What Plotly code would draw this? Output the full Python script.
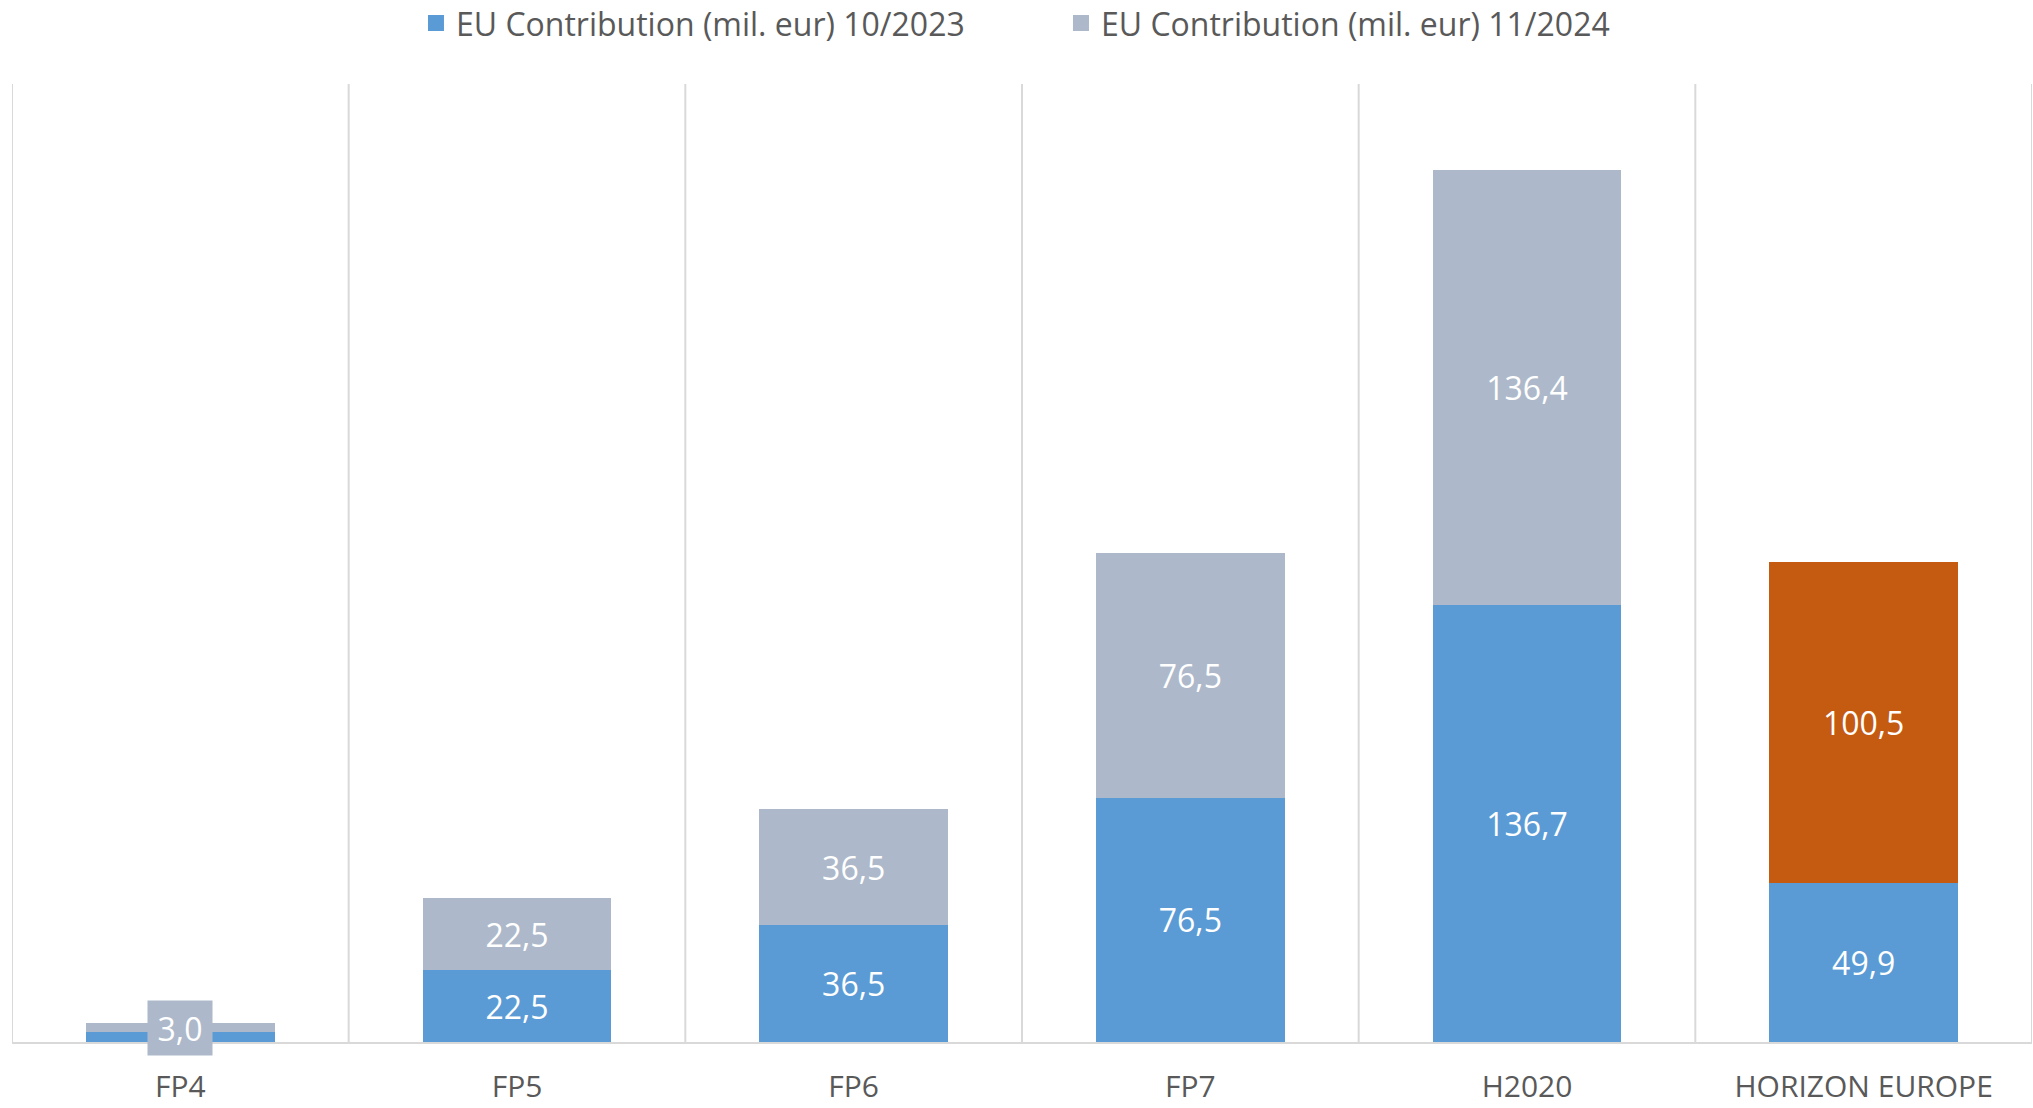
import plotly.graph_objects as go

categories = ["FP4", "FP5", "FP6", "FP7", "H2020", "HORIZON EUROPE"]
contrib_2023 = [3.0, 22.5, 36.5, 76.5, 136.7, 49.9]
contrib_2024 = [3.0, 22.5, 36.5, 76.5, 136.4, 100.5]
series_names = ["EU Contribution (mil. eur) 10/2023", "EU Contribution (mil. eur) 11/2024"]
y_max = 300

BLUE = "#5B9BD5"
GRAY = "#ADB9CA"
ORANGE = "#C55A11"
GRID = "#D9D9D9"
FONT = "Open Sans"


def fmt(v):
    return f"{v:.1f}".replace(".", ",")


# bars whose segment is too thin for an inside label get an annotation instead
thin = [i for i, v in enumerate(contrib_2023) if v < 10]

text_2023 = ["" if i in thin else fmt(v) for i, v in enumerate(contrib_2023)]
text_2024 = ["" if i in thin else fmt(v) for i, v in enumerate(contrib_2024)]
top_colors = [GRAY] * (len(categories) - 1) + [ORANGE]

fig = go.Figure()
fig.add_trace(go.Bar(
    x=categories, y=contrib_2023, name=series_names[0], marker_color=BLUE,
    marker_line_width=0, text=text_2023, textposition="inside",
    insidetextanchor="middle", textangle=0,
    textfont=dict(color="white", size=32, family=FONT), showlegend=False,
    hoverinfo="skip",
))
fig.add_trace(go.Bar(
    x=categories, y=contrib_2024, name=series_names[1], marker_color=top_colors,
    marker_line_width=0, text=text_2024, textposition="inside",
    insidetextanchor="middle", textangle=0,
    textfont=dict(color="white", size=32, family=FONT), showlegend=False,
    hoverinfo="skip",
))
# legend entries with larger square symbols
for name, col in zip(series_names, [BLUE, GRAY]):
    fig.add_trace(go.Scatter(
        x=[None], y=[None], mode="markers", name=name,
        marker=dict(symbol="square", size=20, color=col),
    ))

for i in thin:
    fig.add_annotation(
        x=categories[i], y=contrib_2023[i] + contrib_2024[i] / 2,
        text=fmt(contrib_2024[i]), showarrow=False,
        font=dict(color="white", size=32, family=FONT),
        bgcolor=GRAY, borderpad=2, width=60, height=50,
    )

# vertical gridlines at category boundaries
for k in range(len(categories) + 1):
    fig.add_shape(type="line", xref="x", yref="paper", x0=k - 0.5, x1=k - 0.5,
                  y0=0, y1=1, line=dict(color=GRID, width=2), layer="below")

fig.update_layout(
    barmode="stack", bargap=0.44,
    width=2033, height=1108,
    margin=dict(l=12, r=1, t=84, b=66),
    paper_bgcolor="white", plot_bgcolor="white",
    font=dict(family=FONT, color="#595959"),
    legend=dict(orientation="h", x=0.5193, xanchor="center", yref="container",
                y=0.979, yanchor="middle", font=dict(size=32, color="#595959"),
                entrywidth=600, itemwidth=30, traceorder="normal"),
    uniformtext=dict(minsize=32, mode="show"),
)
fig.update_xaxes(
    range=[-0.5, len(categories) - 0.5], showgrid=False, showline=True,
    linecolor=GRID, linewidth=2, ticks="", automargin=False,
    tickfont=dict(size=30, color="#595959", family=FONT), ticklabelstandoff=17,
)
fig.update_yaxes(range=[0, y_max], showgrid=False, showticklabels=False,
                 zeroline=False, showline=False)

fig.write_html("out.html")
